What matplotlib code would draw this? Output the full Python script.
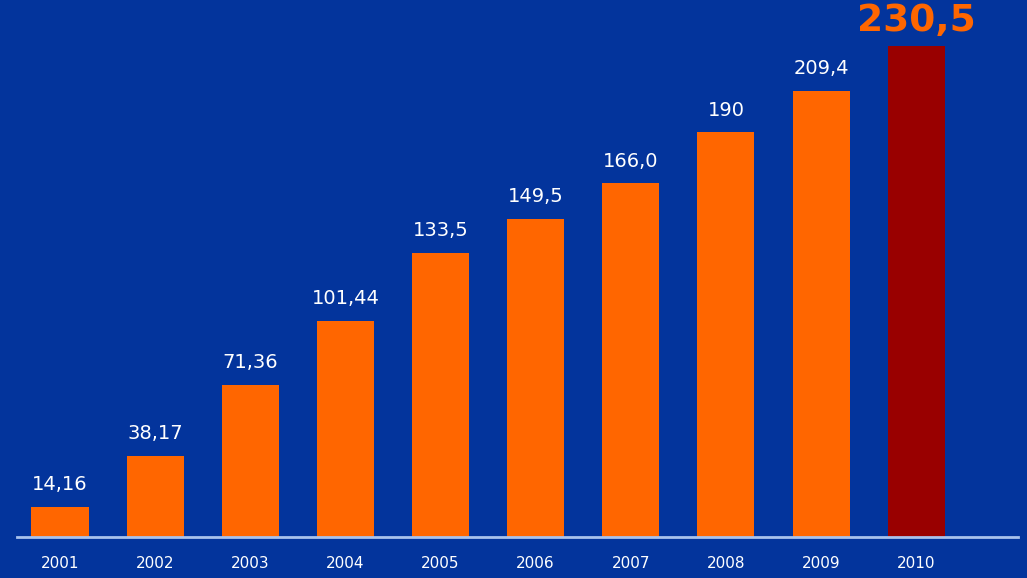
import matplotlib
matplotlib.use("Agg")
import matplotlib.pyplot as plt

years = ["2001", "2002", "2003", "2004", "2005", "2006", "2007", "2008", "2009", "2010"]
values = [14.16, 38.17, 71.36, 101.44, 133.5, 149.5, 166.0, 190, 209.4, 230.5]
labels = ["14,16", "38,17", "71,36", "101,44", "133,5", "149,5", "166,0", "190", "209,4", "230,5"]

BG = "#03349C"
ORANGE = "#FF6600"
DARKRED = "#990000"

plt.rcParams['font.family'] = ['DejaVu Sans']
fig = plt.figure(figsize=(10.27, 5.78), dpi=100, facecolor=BG)
ax = fig.add_axes([17/1027, 41/578, 1001/1027, 537/578], facecolor=BG)

x = list(range(len(years)))
colors = [ORANGE] * (len(years) - 1) + [DARKRED]
ax.bar(x, values, width=0.6, color=colors, zorder=2)

for i, (v, lab) in enumerate(zip(values, labels)):
    if i == len(values) - 1:
        ax.annotate(lab, (i, v), xytext=(0, 5), textcoords="offset points",
                    ha="center", va="bottom", color=ORANGE, fontsize=27,
                    fontweight="bold")
    else:
        ax.annotate(lab, (i, v), xytext=(0, 9), textcoords="offset points",
                    ha="center", va="bottom", color="white", fontsize=14)

ax.set_xlim(-0.452, 10.07)
ax.set_ylim(0, 252.1)
for s in ["top", "right", "left"]:
    ax.spines[s].set_visible(False)
ax.spines["bottom"].set_color("#A9C2EC")
ax.spines["bottom"].set_linewidth(2)
ax.set_yticks([])
ax.set_xticks(x)
ax.set_xticklabels(years, color="white", fontsize=11)
ax.tick_params(axis="x", length=0, pad=14)

fig.savefig("out.png", dpi=100, facecolor=BG)
